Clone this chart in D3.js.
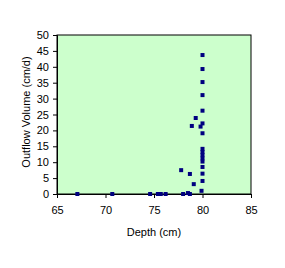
<!DOCTYPE html>
<html>
<head>
<meta charset="utf-8">
<script src="https://cdn.jsdelivr.net/npm/d3@7"></script>
<style>
  body { margin: 0; background: #fff; }
  text { font-family: "Liberation Sans", Arial, sans-serif; font-size: 11px; fill: #000; }
</style>
</head>
<body>
<div id="chart"></div>
<script>
var depth = [67.1, 70.7, 74.6, 75.4, 75.7, 76.2, 78.0, 78.5, 78.7, 79.9,
             79.1, 80, 78.7, 77.8, 80, 80, 80, 80, 80, 80,
             80, 80, 79.8, 78.9, 80, 79.3, 80, 80, 80, 80, 80];
var volume = [0, 0, 0, 0, 0, 0, 0, 0.3, 0, 1.0,
              3.1, 4.1, 6.3, 7.5, 6.4, 8.5, 10.2, 11.2, 12.2, 13.2,
              14.2, 19.1, 21.2, 21.4, 22.2, 23.9, 26.2, 31.1, 35.2, 39.3, 43.7];
var xTicks = [65, 70, 75, 80, 85];
var yTicks = [0, 5, 10, 15, 20, 25, 30, 35, 40, 45, 50];

const width = 285;
const height = 268;
const margin = {top: 35, right: 34, bottom: 74, left: 57};

const svg = d3.select("#chart").append("svg")
    .attr("width", width)
    .attr("height", height);

var x = d3.scaleLinear().domain([65, 85]).range([margin.left, width - margin.right]);
var y = d3.scaleLinear().domain([0, 50]).range([height - margin.bottom, margin.top]);

// plot area
svg.append("rect")
    .attr("x", x(65))
    .attr("y", y(50))
    .attr("width", x(85) - x(65))
    .attr("height", y(0) - y(50))
    .attr("fill", "#ccffcc")
    .attr("stroke", "#000")
    .attr("stroke-width", 1);

const xAxis = svg.append("g")
    .attr("transform", `translate(0, ${y(0)})`)
    .call(d3.axisBottom(x).tickValues(xTicks).tickSize(4).tickPadding(8));
const yAxis = svg.append("g")
    .attr("transform", `translate(${x(65)}, 0)`)
    .call(d3.axisLeft(y).tickValues(yTicks).tickSize(4).tickPadding(4));

[xAxis, yAxis].forEach(a => {
    a.selectAll("path, line").attr("stroke", "#000");
    a.selectAll("text").style("font-family", "Liberation Sans, Arial, sans-serif").style("font-size", "11px");
});

svg.selectAll("rect.pt")
    .data(depth.map((d, i) => [d, volume[i]]))
    .enter()
    .append("rect")
    .attr("class", "pt")
    .attr("x", d => x(d[0]) - 2)
    .attr("y", d => y(d[1]) - 2)
    .attr("width", 4)
    .attr("height", 4)
    .attr("fill", "#000080");

svg.append("text")
    .attr("x", (x(65) + x(85)) / 2)
    .attr("y", 236)
    .attr("text-anchor", "middle")
    .text("Depth (cm)");

svg.append("text")
    .attr("transform", `translate(30, 112) rotate(-90)`)
    .attr("text-anchor", "middle")
    .text("Outflow Volume (cm/d)");
</script>
</body>
</html>
